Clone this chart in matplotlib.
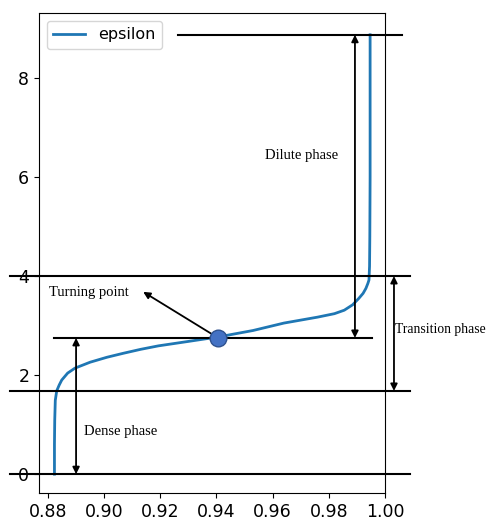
import numpy as np
import matplotlib
matplotlib.use("Agg")
import matplotlib.pyplot as plt

# curve
x_eps = [0.8823, 0.8823, 0.8824, 0.8826, 0.8831, 0.8840, 0.8849, 0.8870, 0.8896,
         0.8950, 0.9010, 0.9068, 0.9130, 0.9193, 0.9300, 0.9406, 0.9530, 0.9640,
         0.9760, 0.9820, 0.9855, 0.9885, 0.9907, 0.9922, 0.9932, 0.9939, 0.9943,
         0.9945, 0.9946, 0.9947, 0.9947, 0.9947]
y_eps = [0.00, 0.60, 1.09, 1.49, 1.68, 1.80, 1.90, 2.04, 2.14,
         2.26, 2.36, 2.44, 2.52, 2.59, 2.68, 2.77, 2.90, 3.05,
         3.17, 3.24, 3.31, 3.42, 3.55, 3.65, 3.75, 3.85, 3.92,
         4.20, 4.80, 6.00, 7.50, 8.87]

turn_x, turn_y = 0.9406, 2.75
top_y = 8.87
trans_y = 4.0
low_y = 1.68

fig = plt.figure(figsize=(4.9, 5.24), dpi=100)
ax = fig.add_axes([0.0796, 0.0592, 0.7061, 0.916])

ax.plot(x_eps, y_eps, label="epsilon", lw=2)
ax.set_xlim(0.8768, 1.0)
ax.set_ylim(-0.38, 9.31)
ax.set_xticks([0.88, 0.90, 0.92, 0.94, 0.96, 0.98, 1.00])
ax.set_yticks([0, 2, 4, 6, 8])
ax.tick_params(labelsize=12.5)
ax.legend(loc="upper left", fontsize=11.5)

# horizontal guide lines (they run past the axes)
lk = dict(color="black", lw=1.5, clip_on=False)
ax.plot([0.9264, 1.0061], [top_y, top_y], **lk)
ax.plot([0.8664, 1.0089], [trans_y, trans_y], **lk)
ax.plot([0.8821, 0.9954], [turn_y, turn_y], **lk)
ax.plot([0.8664, 1.0089], [low_y, low_y], **lk)
ax.plot([0.8664, 1.0089], [0, 0], **lk)

ak = dict(arrowstyle="<|-|>", color="black", lw=1.3, mutation_scale=10,
          shrinkA=0, shrinkB=0)
ax.annotate("", xy=(0.9893, top_y), xytext=(0.9893, turn_y), arrowprops=ak,
            annotation_clip=False)
ax.annotate("", xy=(1.0032, trans_y), xytext=(1.0032, low_y), arrowprops=ak,
            annotation_clip=False)
ax.annotate("", xy=(0.8900, turn_y), xytext=(0.8900, 0), arrowprops=ak,
            annotation_clip=False)
ax.annotate("", xy=(0.9139, 3.68), xytext=(turn_x, turn_y),
            arrowprops=dict(arrowstyle="-|>", color="black", lw=1.3,
                            mutation_scale=10, shrinkA=0, shrinkB=0))

ax.plot([turn_x], [turn_y], "o", ms=12, color="#4472C4", mec="#2F528F", mew=1,
        zorder=5)

tk = dict(family="Liberation Serif", fontsize=10.5, ha="left", va="center")
ax.text(0.9571, 6.44, "Dilute phase", **tk)
ax.text(0.8929, 0.855, "Dense phase", **tk)
ax.text(0.8804, 3.67, "Turning point", **tk)
tk["fontsize"] = 9.8
ax.text(1.0037, 2.93, "Transition phase", clip_on=False, **tk)

fig.savefig("out.png", dpi=100)
